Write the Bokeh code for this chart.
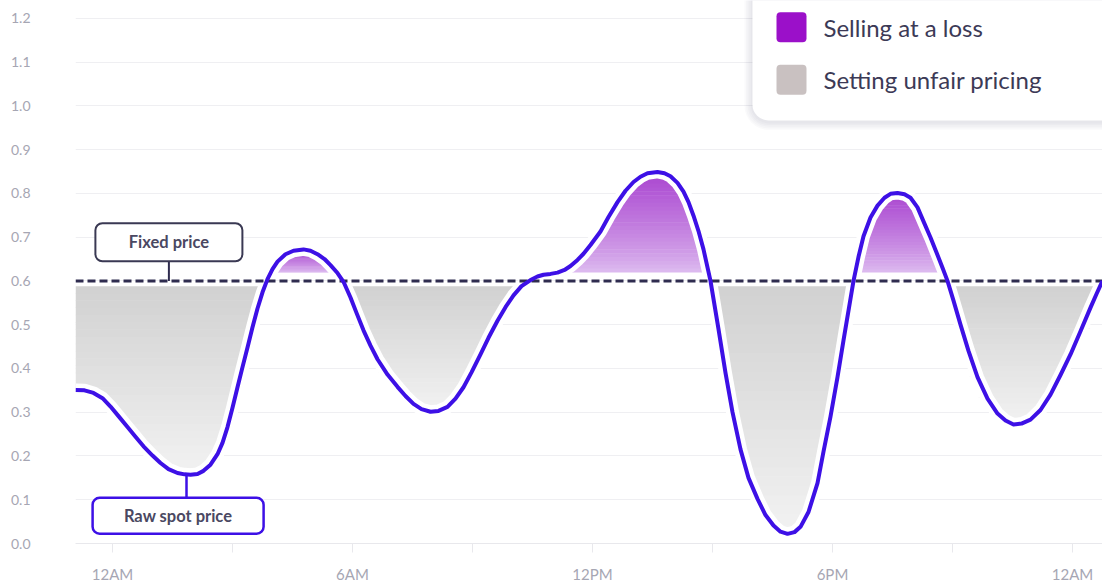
import numpy as np
from bokeh.plotting import figure
from bokeh.models import Range1d, FixedTicker, PrintfTickFormatter
from bokeh.core.properties import value
from bokeh.embed import file_html
from bokeh.resources import INLINE

# ---------------- data ----------------
hours = [-0.925, -0.70, -0.475, -0.25, -0.05, 0.15, 0.375, 0.575, 0.775, 1.0,
         1.2, 1.4, 1.625, 1.8, 1.95, 2.125, 2.275, 2.45, 2.625, 2.75,
         2.875, 3.0, 3.125, 3.25, 3.375, 3.5, 3.625, 3.75, 3.875, 4.0,
         4.125, 4.325, 4.525, 4.775, 4.95, 5.125, 5.3, 5.45, 5.625, 5.775,
         5.95, 6.1, 6.275, 6.45, 6.625, 6.875, 7.125, 7.325, 7.525, 7.725,
         7.95, 8.15, 8.375, 8.575, 8.775, 8.975, 9.2, 9.4, 9.625, 9.825,
         10.025, 10.225, 10.45, 10.625, 10.775, 10.95, 11.125, 11.3, 11.45, 11.625,
         11.775, 11.95, 12.2, 12.4, 12.625, 12.825, 13.025, 13.2, 13.375, 13.625,
         13.8, 13.95, 14.125, 14.275, 14.4, 14.525, 14.65, 14.775, 14.95, 15.15,
         15.325, 15.5, 15.7, 15.9, 16.125, 16.325, 16.525, 16.7, 16.875, 17.05,
         17.2, 17.4, 17.625, 17.775, 17.95, 18.125, 18.275, 18.4, 18.525, 18.65,
         18.775, 18.95, 19.125, 19.3, 19.45, 19.625, 19.8, 19.95, 20.125, 20.275,
         20.45, 20.625, 20.75, 20.875, 21.025, 21.2, 21.4, 21.625, 21.875, 22.125,
         22.325, 22.525, 22.725, 22.95, 23.2, 23.45, 23.7, 23.95, 24.2, 24.45,
         24.6, 24.75]
price = [0.351, 0.350, 0.344, 0.332, 0.313, 0.291, 0.266, 0.244, 0.222, 0.201,
         0.184, 0.170, 0.161, 0.158, 0.157, 0.159, 0.166, 0.180, 0.204, 0.230,
         0.266, 0.310, 0.357, 0.403, 0.448, 0.494, 0.537, 0.574, 0.604, 0.627,
         0.644, 0.661, 0.669, 0.672, 0.669, 0.661, 0.650, 0.636, 0.618, 0.598,
         0.562, 0.527, 0.487, 0.452, 0.421, 0.386, 0.358, 0.337, 0.319, 0.307,
         0.301, 0.303, 0.312, 0.331, 0.357, 0.391, 0.432, 0.470, 0.509, 0.540,
         0.567, 0.588, 0.602, 0.610, 0.614, 0.616, 0.619, 0.625, 0.634, 0.648,
         0.662, 0.682, 0.713, 0.746, 0.780, 0.806, 0.826, 0.838, 0.846, 0.849,
         0.846, 0.839, 0.824, 0.804, 0.780, 0.749, 0.714, 0.672, 0.600, 0.490,
         0.390, 0.300, 0.215, 0.150, 0.102, 0.065, 0.041, 0.027, 0.022, 0.026,
         0.038, 0.072, 0.138, 0.210, 0.290, 0.380, 0.464, 0.532, 0.600, 0.655,
         0.702, 0.745, 0.772, 0.790, 0.799, 0.801, 0.798, 0.790, 0.768, 0.736,
         0.699, 0.659, 0.630, 0.600, 0.555, 0.500, 0.440, 0.380, 0.331, 0.297,
         0.281, 0.272, 0.274, 0.283, 0.305, 0.340, 0.385, 0.432, 0.485, 0.539,
         0.570, 0.600]
fixed_price = 0.6

y_ticks = [0.0, 0.1, 0.2, 0.3, 0.4, 0.5, 0.6, 0.7, 0.8, 0.9, 1.0, 1.1, 1.2]
x_ticks = [0, 3, 6, 9, 12, 15, 18, 21, 24]
x_tick_labels = ["12AM", "", "6AM", "", "12PM", "", "6PM", "", "12AM"]
legend_labels = ["Selling at a loss", "Setting unfair pricing"]
legend_colors = ["#9b10c9", "#c9c1c1"]
callout_labels = ["Fixed price", "Raw spot price"]

# ---------------- layout / style ----------------
W, H = 1102, 585
LEFT, BOTTOM = 75, 37
Y_TOP = 1.2407
FONT = value("Lato")
TXT = "#3c3a56"
BLUE = "#3d10e6"
NAVY = "#2f2c4f"

h = np.array(hours)
v = np.array(price)
x0, x1 = h[0], h[-1]
px_h = (W - LEFT) / (x1 - x0)      # pixels per hour
px_v = (H - BOTTOM) / Y_TOP        # pixels per price unit

p = figure(width=W, height=H, x_range=Range1d(x0, x1), y_range=Range1d(0, Y_TOP),
           output_backend="svg", toolbar_location=None,
           min_border_left=LEFT, min_border_right=0, min_border_top=0,
           min_border_bottom=BOTTOM)
p.outline_line_color = None
p.background_fill_color = "white"
p.border_fill_color = "white"

p.xgrid.visible = False
p.ygrid.ticker = FixedTicker(ticks=y_ticks)
p.ygrid.grid_line_color = "#efeff2"
p.ygrid.grid_line_width = 1

yax = p.yaxis[0]
yax.ticker = FixedTicker(ticks=y_ticks, minor_ticks=[])
yax.formatter = PrintfTickFormatter(format="%.1f")
yax.axis_line_color = None
yax.major_tick_line_color = None
yax.minor_tick_line_color = None
yax.major_label_standoff = 39
yax.major_label_text_font = "Lato"
yax.major_label_text_font_size = "14px"
yax.major_label_text_color = "#a6a6b3"

xax = p.xaxis[0]
xax.ticker = FixedTicker(ticks=x_ticks, minor_ticks=[])
xax.major_label_overrides = {t: lab for t, lab in zip(x_ticks, x_tick_labels)}
xax.axis_line_color = "#e8e8ec"
xax.major_tick_line_color = "#e8e8ec"
xax.major_tick_in = 0
xax.major_tick_out = 9
xax.minor_tick_line_color = None
xax.major_label_standoff = 12
xax.major_label_text_font = "Lato"
xax.major_label_text_font_size = "15px"
xax.major_label_text_color = "#a6a6b3"

# ---------------- gradient fills ----------------
loss_floor = fixed_price + 8.5 / px_v
unfair_ceiling = fixed_price - 5.5 / px_v


def regions(mask):
    idx = np.flatnonzero(mask)
    if len(idx) == 0:
        return []
    groups = np.split(idx, np.flatnonzero(np.diff(idx) > 1) + 1)
    out = []
    for g in groups:
        a = max(g[0] - 1, 0)
        b = min(g[-1] + 1, len(h) - 1)
        out.append((a, b + 1))
    return out


def mix(c1, c2, t):
    r = [int(round(a + (b - a) * t)) for a, b in zip(c1, c2)]
    return "#%02x%02x%02x" % tuple(r)


N = 26
eps = 0.6 / px_v
gray_top, gray_bot = (209, 209, 209), (242, 242, 242)
for a, b in regions(v < unfair_ceiling):
    hs, vs = h[a:b], v[a:b]
    lo_v = vs.min()
    edges = np.linspace(lo_v, unfair_ceiling, N + 1)
    for k in range(N):
        lo, hi = edges[k], edges[k + 1]
        top = min(hi + eps, unfair_ceiling)
        t = (0.5 * (lo + hi) - lo_v) / (unfair_ceiling - lo_v)
        p.varea(x=hs, y1=np.clip(vs, lo, top), y2=np.full(len(hs), top),
                fill_color=mix(gray_bot, gray_top, t), fill_alpha=1)

pur_top, pur_bot = (170, 70, 208), (222, 190, 240)
for a, b in regions(v > loss_floor):
    hs, vs = h[a:b], v[a:b]
    hi_v = vs.max()
    edges = np.linspace(loss_floor, hi_v, N + 1)
    for k in reversed(range(N)):
        lo, hi = edges[k], edges[k + 1]
        bot = max(lo - eps, loss_floor)
        t = (0.5 * (lo + hi) - loss_floor) / (hi_v - loss_floor)
        p.varea(x=hs, y1=np.full(len(hs), bot), y2=np.clip(vs, bot, hi),
                fill_color=mix(pur_bot, pur_top, t ** 0.8), fill_alpha=1)

# white halo, fixed price line, spot price curve
p.line(h, v, line_color="white", line_width=13, line_join="round")
p.line([x0, x1], [fixed_price, fixed_price], line_color=NAVY, line_width=3,
       line_dash="8 4")
p.line(h, v, line_color=BLUE, line_width=4, line_join="round")

# ---------------- callouts ----------------
fix_h = 1.41
fix_box_v = fixed_price + 39 / px_v
p.segment(x0=[fix_h], y0=[fixed_price], x1=[fix_h], y1=[fix_box_v - 19 / px_v],
          line_color=NAVY, line_width=2)
p.rect(x=[fix_h], y=[fix_box_v], width=147, height=38, width_units="screen",
       height_units="screen", fill_color="white", line_color="#3a3953",
       line_width=2, border_radius=7)
p.text(x=[fix_h], y=[fix_box_v], text=[callout_labels[0]], text_font=FONT,
       text_font_size="16.5px", text_font_style="bold", text_color="#4a4862",
       text_align="center", text_baseline="middle")

i_min = int(np.argmin(v[:25]))
spot_stem_h = h[i_min] - 0.1
spot_box_h = 1.64
spot_box_v = 28 / px_v
p.segment(x0=[spot_stem_h], y0=[v[i_min]], x1=[spot_stem_h], y1=[spot_box_v + 18 / px_v],
          line_color=BLUE, line_width=2.5)
p.rect(x=[spot_box_h], y=[spot_box_v], width=171, height=36, width_units="screen",
       height_units="screen", fill_color="white", line_color=BLUE,
       line_width=2.5, border_radius=7)
p.text(x=[spot_box_h], y=[spot_box_v], text=[callout_labels[1]], text_font=FONT,
       text_font_size="16.5px", text_font_style="bold", text_color="#4a4862",
       text_align="center", text_baseline="middle")

# ---------------- legend card ----------------
card_left = 16.0
card_bottom = Y_TOP - 121 / px_v
for k in range(1, 6):
    d = k * 1.6
    p.quad(left=[card_left - d / px_h], right=[x1 + 2], top=[Y_TOP + 1],
           bottom=[card_bottom - (d + 1.5) / px_v], fill_color="#5c5c78",
           fill_alpha=0.03, line_color=None, border_radius=int(round(16 + d)))
p.quad(left=[card_left], right=[x1 + 2], top=[Y_TOP + 1], bottom=[card_bottom],
       fill_color="white", line_color=None, border_radius=16)

leg_v = [Y_TOP - 27 / px_v, Y_TOP - 80 / px_v]
sw_h = card_left + 39 / px_h
p.rect(x=[sw_h, sw_h], y=leg_v, width=30, height=30, width_units="screen",
       height_units="screen", fill_color=legend_colors, line_color=None,
       border_radius=4)
p.text(x=[card_left + 71 / px_h] * 2, y=leg_v, text=legend_labels, text_font=FONT,
       text_font_size="24px", text_color=TXT, text_align="left",
       text_baseline="middle")

open("out.html", "w").write(file_html(p, INLINE))
